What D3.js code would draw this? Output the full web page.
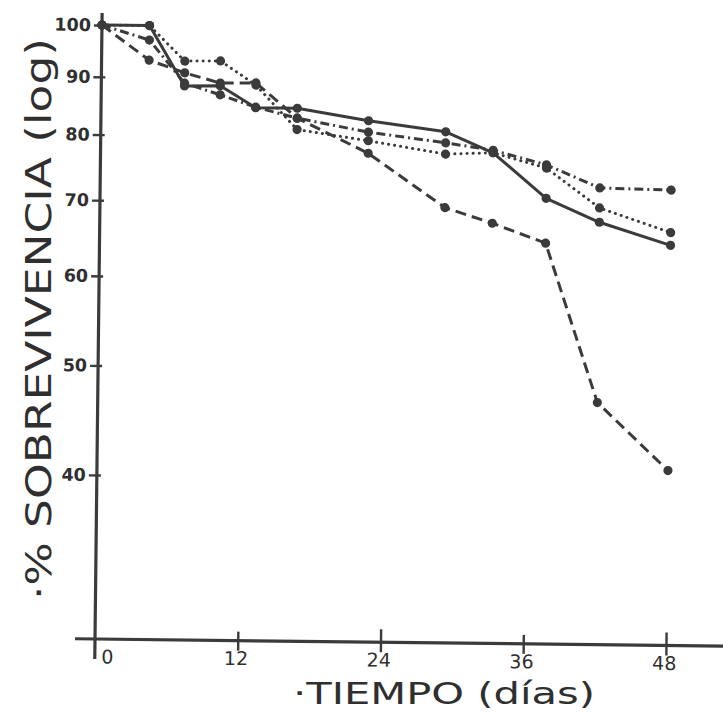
<!DOCTYPE html>
<html><head><meta charset="utf-8">
<script src="https://cdn.jsdelivr.net/npm/d3@7"></script>
<style>body{margin:0;background:#fff}svg{display:block}</style>
</head><body>
<svg id="c" width="723" height="716"></svg>
<script>
// ---- data ----
const days    = [0, 4, 7, 10, 13, 16.5, 22.5, 29, 33, 37.5, 42, 48];
const solid   = [100, 100, 88.5, 88.6, 84.8, 84.8, 82.8, 81.1, 77.8, 71.0, 67.7, 64.7];
const dotted  = [100, 100, 93.1, 93.2, 88.8, 81.2, 79.5, 77.5, 77.8, 75.5, 69.7, 66.4];
const dashDot = [100, 97.1, 89.0, 87.0, 84.9, 83.1, 80.9, 79.3, 78.2, 76.0, 72.6, 72.4];
const dashed  = [100, 93.2, 90.9, 89.1, 89.2, 83.1, 77.5, 69.5, 67.4, 64.8, 46.9, 40.9];
const xTicks  = [0, 12, 24, 36, 48];
const yTicks  = [40, 50, 60, 70, 80, 90, 100];
const xTitle  = "·TIEMPO (días)";
const yTitle  = "·% SOBREVIVENCIA (log)";

const ink = "#3b3b3b";
const svg = d3.select("#c");
svg.append("rect").attr("width",723).attr("height",716).attr("fill","#fff");

// the scanned figure is slightly rotated
const g = svg.append("g").attr("transform","translate(95,639) rotate(0.65)");

const x = d3.scaleLinear().domain([0,48]).range([0,571]);
const y = d3.scaleLog().domain([40,100]).range([-164,-614]);

// axes lines
g.append("line").attr("x1",0).attr("x2",0).attr("y1",-626).attr("y2",20)
  .attr("stroke",ink).attr("stroke-width",3.2);
g.append("line").attr("x1",-20).attr("x2",650).attr("y1",0).attr("y2",0)
  .attr("stroke",ink).attr("stroke-width",3.2);

// y axis ticks
const ya = g.append("g").call(d3.axisLeft(y).tickValues(yTicks).tickSize(8).tickFormat(d3.format("d")));
ya.select(".domain").remove();
ya.selectAll(".tick line").attr("x1",4).attr("stroke",ink).attr("stroke-width",2.4);
ya.selectAll(".tick text").attr("x",-11).attr("fill","#2f2f2f")
  .attr("font-family","DejaVu Sans").attr("font-weight","bold").attr("font-size",17.5);

// x axis ticks
const xa = g.append("g").call(d3.axisBottom(x).tickValues(xTicks).tickSize(9).tickFormat(d3.format("d")));
xa.select(".domain").remove();
xa.selectAll(".tick line").attr("y1", d => d===0 ? 0 : (d%24===0 ? -13 : -9))
  .attr("y2", d => d===0 ? 0 : 10).attr("stroke",ink).attr("stroke-width",2.4);
xa.selectAll(".tick text").attr("y",11).attr("dy","0.71em")
  .attr("x", d => d===0 ? 12 : -2).attr("fill","#2f2f2f")
  .attr("font-family","DejaVu Sans").attr("font-size",19);

// series
const series = [
  {vals: solid,   dash: null,          cap: "round"},
  {vals: dotted,  dash: "0.1 6",       cap: "round"},
  {vals: dashDot, dash: "9 4 2 4",     cap: "butt"},
  {vals: dashed,  dash: "11 6",        cap: "butt"}
];
const line = d3.line().x(d => x(d[0])).y(d => y(d[1]));
series.forEach(s => {
  const pts = days.map((d,i) => [d, s.vals[i]]);
  g.append("path").datum(pts).attr("d", line).attr("fill","none")
    .attr("stroke",ink).attr("stroke-width",3)
    .attr("stroke-linecap",s.cap).attr("stroke-linejoin","round")
    .attr("stroke-dasharray", s.dash);
  g.append("g").selectAll("circle").data(pts).join("circle")
    .attr("cx", d => x(d[0])).attr("cy", d => y(d[1])).attr("r",4.6)
    .attr("fill",ink);
});

// titles
svg.append("text").attr("x",293).attr("y",704).text(xTitle)
  .attr("font-family","DejaVu Sans").attr("font-size",31).attr("fill","#2f2f2f")
  .attr("textLength",302).attr("lengthAdjust","spacingAndGlyphs");
svg.append("text").attr("transform","translate(51,600) rotate(-90)").text(yTitle)
  .attr("font-family","DejaVu Sans").attr("font-size",35).attr("fill","#2f2f2f")
  .attr("textLength",562).attr("lengthAdjust","spacingAndGlyphs");
</script>
</body></html>
